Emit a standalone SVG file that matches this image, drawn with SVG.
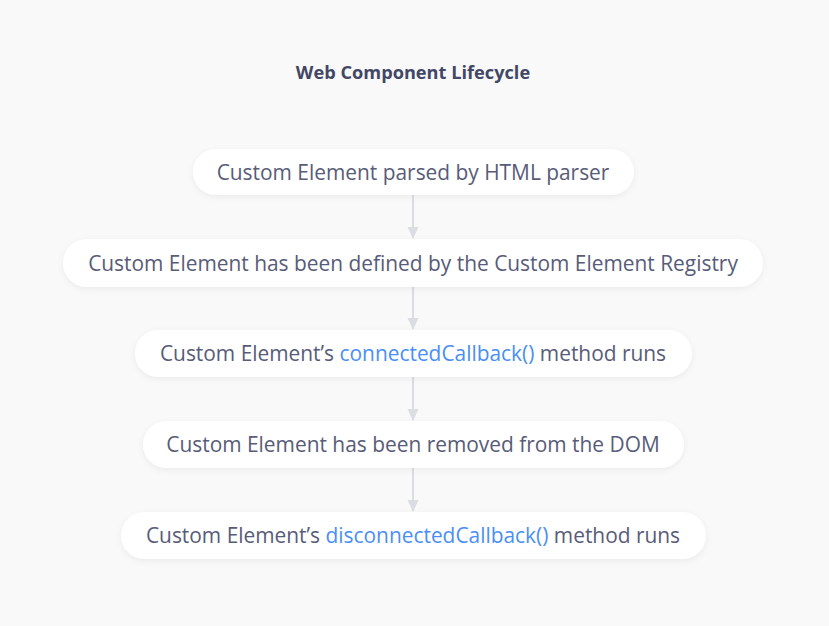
<svg xmlns="http://www.w3.org/2000/svg" width="829" height="626" viewBox="0 0 829 626">
<defs>
<filter id="sh" x="-10%" y="-40%" width="120%" height="180%">
<feDropShadow dx="0" dy="2" stdDeviation="3" flood-color="#000" flood-opacity="0.06"/>
</filter>
<marker id="ah" markerWidth="12" markerHeight="12" refX="11" refY="6" orient="auto" markerUnits="userSpaceOnUse" viewBox="0 0 12 12">
<path d="M0,0.5 L12,6 L0,11.5 Z" fill="#dcdde3"/>
</marker>
<style>
.n{fill:#fff;filter:url(#sh)}
.t{font-family:"Open Sans",sans-serif;font-size:20.9px;fill:#585c78;text-anchor:middle}
.b{fill:#4a8ff5}
.c{stroke:#dcdde3;stroke-width:2;fill:none;marker-end:url(#ah)}
</style>
</defs>
<rect width="829" height="626" fill="#f9f9fa"/>
<text x="413" y="79" font-family="Open Sans,sans-serif" font-size="18.2" font-weight="bold" fill="#434766" text-anchor="middle">Web Component Lifecycle</text>
<g id="connectors">
<line class="c" x1="413" y1="195" x2="413" y2="238"/>
<line class="c" x1="413" y1="287" x2="413" y2="329"/>
<line class="c" x1="413" y1="377" x2="413" y2="420"/>
<line class="c" x1="413" y1="468" x2="413" y2="511"/>
</g>
<g id="n1"><rect class="n" x="193" y="149" width="441" height="46" rx="23"/><text class="t" x="413" y="180">Custom Element parsed by HTML parser</text></g>
<g id="n2"><rect class="n" x="63" y="239" width="700" height="48" rx="24"/><text class="t" x="413" y="270.5">Custom Element has been defined by the Custom Element Registry</text></g>
<g id="n3"><rect class="n" x="135" y="330" width="557" height="47" rx="23.5"/><text class="t" x="413" y="361">Custom Element’s <tspan class="b">connectedCallback()</tspan> method runs</text></g>
<g id="n4"><rect class="n" x="143" y="421" width="541" height="47" rx="23.5"/><text class="t" x="413" y="452">Custom Element has been removed from the DOM</text></g>
<g id="n5"><rect class="n" x="121" y="512" width="585" height="47" rx="23.5"/><text class="t" x="413" y="543">Custom Element’s <tspan class="b">disconnectedCallback()</tspan> method runs</text></g>
</svg>
